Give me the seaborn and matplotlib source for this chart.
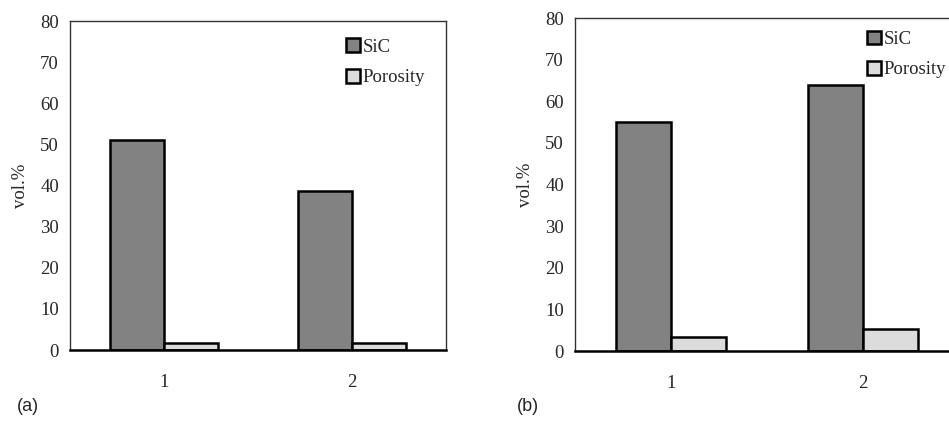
"""
SiC and porosity volume fractions for two samples, panels (a) and (b)
"""
import matplotlib
matplotlib.use("Agg")
import matplotlib.pyplot as plt
import seaborn as sns
import pandas as pd

samples = ["1", "2"]
phases = ["SiC", "Porosity"]
sic_a = [51.0, 38.7]
porosity_a = [1.6, 1.8]
sic_b = [55.0, 64.0]
porosity_b = [3.4, 5.4]
y_ticks = [0, 10, 20, 30, 40, 50, 60, 70, 80]

sns.set_style("white")
plt.rcParams["font.family"] = ["Liberation Serif", "DejaVu Serif"]

colors = {"SiC": "#828282", "Porosity": "#dcdcdc"}


def make_frame(sic, porosity):
    rows = []
    for s, v in zip(samples, sic):
        rows.append({"sample": s, "phase": "SiC", "vol": v})
    for s, v in zip(samples, porosity):
        rows.append({"sample": s, "phase": "Porosity", "vol": v})
    return pd.DataFrame(rows)


def draw_panel(ax, df, legend_anchor):
    sns.barplot(data=df, x="sample", y="vol", hue="phase", order=samples,
                hue_order=phases, palette=colors, width=0.574,
                edgecolor="black", linewidth=1.8, saturation=1, ax=ax)
    ax.set_xlim(-0.5, 1.5)
    ax.set_ylim(0, 80)
    ax.set_yticks(y_ticks)
    ax.set_xlabel("")
    ax.set_ylabel("vol.%", fontsize=13.5, labelpad=8)
    ax.tick_params(axis="y", length=0, pad=8, labelsize=13.5)
    ax.tick_params(axis="x", length=0, pad=17, labelsize=13.5)
    ax.set_xticks([0.5], minor=True)
    ax.tick_params(axis="x", which="minor", length=3, width=0.6, color="#999999")
    for side in ["left", "top", "right"]:
        ax.spines[side].set_color("#333333")
        ax.spines[side].set_linewidth(1.0)
    ax.spines["bottom"].set_color("black")
    ax.spines["bottom"].set_linewidth(1.8)
    ax.legend(loc="upper left", bbox_to_anchor=legend_anchor, frameon=False,
              fontsize=13.5, handlelength=0.75, handleheight=0.75,
              handletextpad=0.12, labelspacing=0.7, borderaxespad=0)


fig = plt.figure(figsize=(9.49, 4.26), dpi=100)
ax_a = fig.add_axes([0.0738, 0.1784, 0.3962, 0.7723])
ax_b = fig.add_axes([0.6059, 0.176, 0.4046, 0.7817])

draw_panel(ax_a, make_frame(sic_a, porosity_a), (0.715, 0.97))
draw_panel(ax_b, make_frame(sic_b, porosity_b), (0.742, 0.985))

fig.text(0.018, 0.035, "(a)", family="Liberation Sans", fontsize=13)
fig.text(0.545, 0.035, "(b)", family="Liberation Sans", fontsize=13)

fig.savefig("out.png", dpi=100)
